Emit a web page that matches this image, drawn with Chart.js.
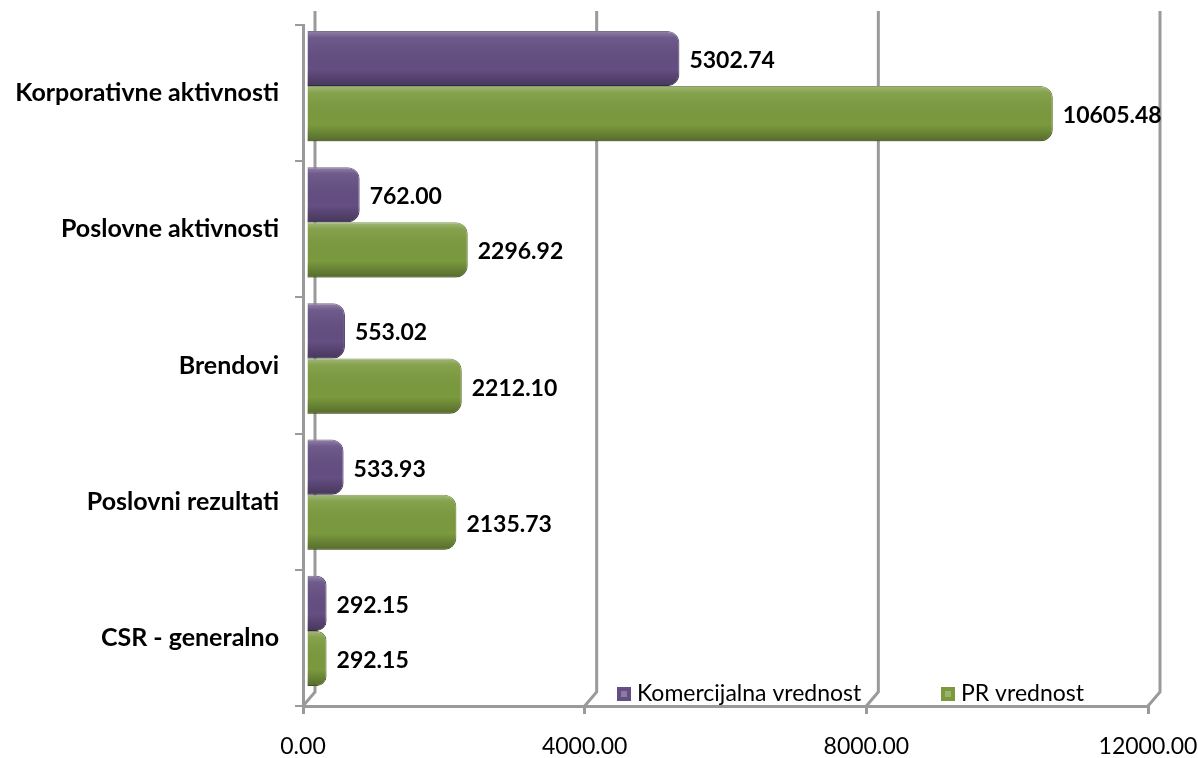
<!DOCTYPE html>
<html>
<head>
<meta charset="utf-8">
<script src="https://cdn.jsdelivr.net/npm/chart.js@4.4.1/dist/chart.umd.min.js"></script>
<style>
  html, body { margin: 0; padding: 0; background: #fff; }
  #wrap { width: 1198px; height: 758px; }
</style>
</head>
<body>
<div id="wrap"><canvas id="grafico"></canvas></div>
<script>
// Datos del gráfico
const kategorije = ['Korporativne aktivnosti', 'Poslovne aktivnosti', 'Brendovi', 'Poslovni rezultati', 'CSR - generalno'];
const komercijalnaVrednost = [5302.74, 762.00, 553.02, 533.93, 292.15];
const prVrednost = [10605.48, 2296.92, 2212.10, 2135.73, 292.15];
const nazivSerija = ['Komercijalna vrednost', 'PR vrednost'];
const xMin = 0, xMax = 12000, xKorak = 4000;

const ljubicasta = '#644e82';
const zelena = '#7b9a3e';
const siva = '#9a9a9a';
const font = 'Lato, "Open Sans", sans-serif';
const pomak = { x: 3, y: -7 }; // 3D dubina stubića

// Zadnji zid i mreža (3D izgled kao u Excelu)
const zidPlugin = {
    id: 'zid',
    beforeDatasetsDraw(chart) {
        const { ctx, chartArea, scales } = chart;
        const dx = 12, dy = 14;
        ctx.save();
        ctx.strokeStyle = siva;
        ctx.lineWidth = 3;
        for (let v = xMin; v <= xMax; v += xKorak) {
            const px = scales.x.getPixelForValue(v);
            ctx.beginPath();
            ctx.moveTo(px + dx, chartArea.top - dy);
            ctx.lineTo(px + dx, chartArea.bottom - dy);
            ctx.lineTo(px, chartArea.bottom);
            ctx.stroke();
        }
        ctx.restore();
        ctx.save();
        ctx.translate(pomak.x, pomak.y);
    },
    afterDatasetsDraw(chart) {
        const { ctx } = chart;
        // senka i odsjaj na stubićima
        chart.data.datasets.forEach((ds, i) => {
            chart.getDatasetMeta(i).data.forEach(bar => {
                const top = bar.y - bar.height / 2;
                const g = ctx.createLinearGradient(0, top, 0, top + bar.height);
                g.addColorStop(0, 'rgba(255,255,255,0.30)');
                g.addColorStop(0.12, 'rgba(255,255,255,0.08)');
                g.addColorStop(0.7, 'rgba(0,0,0,0)');
                g.addColorStop(1, 'rgba(0,0,0,0.30)');
                ctx.fillStyle = g;
                ctx.beginPath();
                ctx.roundRect(bar.base, top, bar.x - bar.base, bar.height, [0, 12, 12, 0]);
                ctx.fill();
            });
        });
        ctx.restore();

        ctx.save();
        ctx.font = 'bold 23px ' + font;
        ctx.fillStyle = '#000';
        ctx.textBaseline = 'middle';
        ctx.textAlign = 'left';
        chart.data.datasets.forEach((ds, i) => {
            chart.getDatasetMeta(i).data.forEach((bar, j) => {
                ctx.fillText(ds.data[j].toFixed(2), bar.x + pomak.x + 10, bar.y + pomak.y + 2);
            });
        });
        ctx.restore();
    },
    afterDraw(chart) {
        // legenda unutar oblasti grafika
        const { ctx, chartArea } = chart;
        ctx.save();
        ctx.font = '23px ' + font;
        ctx.textBaseline = 'middle';
        const y = chartArea.bottom - 12;
        let x = chartArea.left + 314;
        chart.data.datasets.forEach((ds, i) => {
            ctx.fillStyle = ds.backgroundColor;
            ctx.fillRect(x, y - 7, 14, 14);
            ctx.fillStyle = 'rgba(255,255,255,0.25)';
            ctx.fillRect(x + 4, y - 3, 6, 6);
            ctx.fillStyle = '#000';
            ctx.fillText(ds.label, x + 20, y);
            x += 324;
        });
        ctx.restore();
    }
};

const ctx = document.getElementById('grafico').getContext('2d');
new Chart(ctx, {
    type: 'bar',
    data: {
        labels: kategorije,
        datasets: [
            {
                label: nazivSerija[0],
                data: komercijalnaVrednost,
                backgroundColor: ljubicasta,
                borderColor: '#4a3763',
                borderWidth: 1,
                borderSkipped: 'start',
                borderRadius: { topRight: 12, bottomRight: 12 }
            },
            {
                label: nazivSerija[1],
                data: prVrednost,
                backgroundColor: zelena,
                borderColor: '#5b7428',
                borderWidth: 1,
                borderSkipped: 'start',
                borderRadius: { topRight: 12, bottomRight: 12 }
            }
        ]
    },
    options: {
        indexAxis: 'y',
        responsive: true,
        maintainAspectRatio: false,
        animation: false,
        categoryPercentage: 0.81,
        barPercentage: 1.0,
        layout: { padding: { top: 25, right: 50, left: 0, bottom: 0 } },
        plugins: {
            legend: { display: false },
            tooltip: { enabled: false }
        },
        scales: {
            x: {
                min: xMin,
                max: xMax,
                ticks: {
                    stepSize: xKorak,
                    color: '#000',
                    font: { family: font, size: 23 },
                    padding: 19,
                    callback: v => Number(v).toFixed(2)
                },
                grid: { display: true, drawOnChartArea: false, color: siva, lineWidth: 3, tickLength: 8 },
                border: { display: true, color: siva, width: 3 },
                afterFit: s => { s.height = 52; s.paddingLeft = 0; s.paddingRight = 0; }
            },
            y: {
                ticks: {
                    color: '#000',
                    font: { family: font, size: 25, weight: 'bold' },
                    padding: 16
                },
                grid: { display: true, drawOnChartArea: false, color: siva, lineWidth: 2, tickLength: 8, offset: true },
                border: { display: true, color: siva, width: 3 },
                afterFit: s => { s.width = 303; s.paddingTop = 0; s.paddingBottom = 0; }
            }
        }
    },
    plugins: [zidPlugin]
});
</script>
</body>
</html>
